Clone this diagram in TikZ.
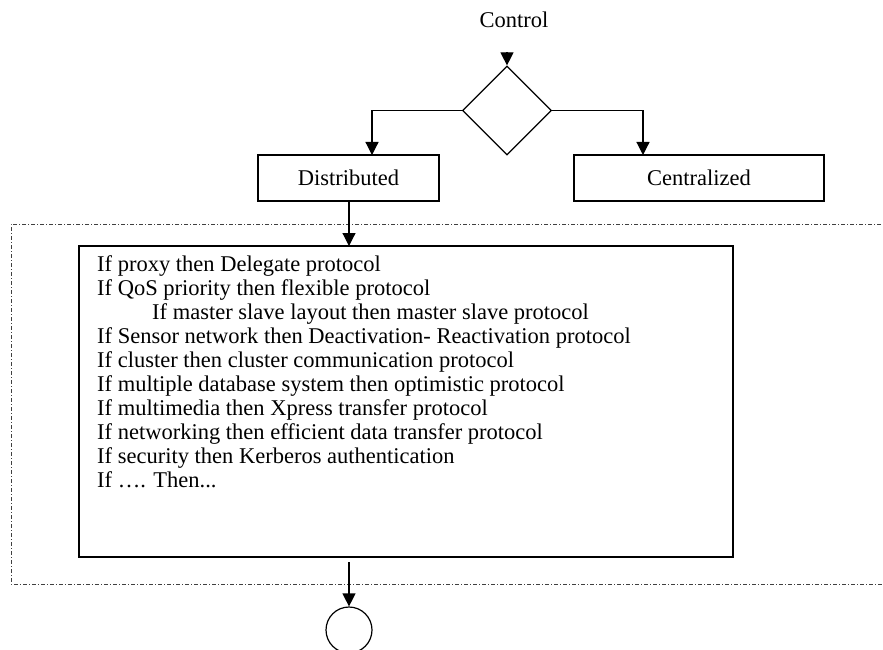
\documentclass[tikz,border=0pt]{standalone}
\usepackage{fontspec}
\setmainfont{Liberation Serif}
\usetikzlibrary{shapes.geometric,arrows.meta}

\tikzset{
  box/.style={draw, line width=1.5pt, inner sep=0pt},
  flow/.style={line width=1.2pt, -{Triangle[length=13pt,width=13pt]}},
  link/.style={line width=1.2pt},
  region/.style={draw=black!75, line width=0.9pt,
    dash pattern=on 4pt off 2pt on 1pt off 2pt},
  label/.style={font=\fontsize{22.5}{24}\selectfont, inner sep=0pt}
}

\begin{document}
\begin{tikzpicture}[x=1pt,y=-1pt]
  \useasboundingbox (0,0) rectangle (883,650);
  \clip (0,0) rectangle (883,650);

  % dash-dotted region around the rule box
  \draw[region] (890,224) -- (11,224) -- (11,584) -- (890,584);

  % decision
  \node[label] (ctl) at (514,20) {Control};
  \node[draw, diamond, line width=1.2pt, minimum width=89pt, minimum height=89pt,
        inner sep=0pt, aspect=1] (dec) at (507,110.5) {};
  \coordinate (in) at (507,52);
  \draw[flow] (in) -- (dec.north);

  % the two kinds of control
  \node[box, minimum width=181pt, minimum height=46pt] (dist) at (348.5,178) {};
  \node[label] at (dist.center) {Distributed};
  \node[box, minimum width=250pt, minimum height=46pt] (cent) at (699,178) {};
  \node[label] at (cent.center) {Centralized};

  \draw[flow] (dec.west) -| (372,155);
  \draw[flow] (dec.east) -| (643,155);

  % rule box
  \node[box, minimum width=654pt, minimum height=311pt] (rules) at (406,401.5) {};
  \node[label, anchor=north west, align=left] (txt) at (97,255) {%
    If proxy then Delegate protocol\\
    If QoS priority then flexible protocol\\
    \hspace*{55pt}If master slave layout then master slave protocol\\
    If Sensor network then Deactivation- Reactivation protocol\\
    If cluster then cluster communication protocol\\
    If multiple database system then optimistic protocol\\
    If multimedia then Xpress transfer protocol\\
    If networking then efficient data transfer protocol\\
    If security then Kerberos authentication\\
    If …. Then...};

  \draw[flow] (349,201) -- (349,246);

  % end
  \node[draw, circle, line width=1.2pt, minimum size=46pt, inner sep=0pt] (end) at (349,630) {};
  \coordinate (out) at (349,562);
  \draw[flow] (out) -- (end.north);
\end{tikzpicture}
\end{document}
